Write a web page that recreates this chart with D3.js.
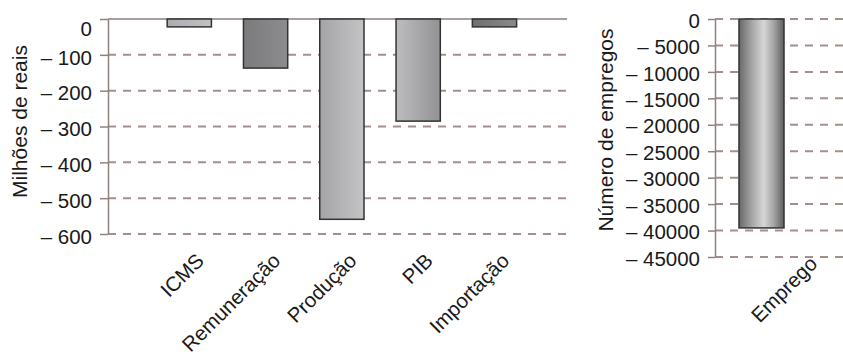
<!DOCTYPE html>
<html>
<head>
<meta charset="utf-8">
<script src="https://cdn.jsdelivr.net/npm/d3@7"></script>
<style>
  html, body { margin: 0; padding: 0; background: #fff; }
  svg { display: block; font-family: "Liberation Sans", Arial, sans-serif; }
</style>
</head>
<body>
<svg id="chart" width="843" height="357"></svg>
<script>
// Impact indicators (millions of reais)
const categories = ["ICMS", "Remuneração", "Produção", "PIB", "Importação"];
const valuesMoney = [-22, -137, -559, -285, -22];
const ticksMoney = [0, -100, -200, -300, -400, -500, -600];

// Impact on employment (number of jobs)
const categoriesJobs = ["Emprego"];
const valuesJobs = [-39500];
const ticksJobs = [0, -5000, -10000, -15000, -20000, -25000, -30000, -35000, -40000, -45000];

// bar shading (gradient stops, left to right)
const barShades = [
  [["0%", "#aaacaf"], ["100%", "#c0c2c4"]],
  [["0%", "#7b7b7d"], ["100%", "#8c8c8e"]],
  [["0%", "#a4a4a6"], ["100%", "#c4c4c6"]],
  [["0%", "#bdbdbf"], ["100%", "#929294"]],
  [["0%", "#6e6e70"], ["100%", "#8a8a8c"]]
];
const jobShade = [["0%", "#686868"], ["30%", "#a8a8a8"], ["55%", "#d6d6d6"], ["78%", "#a2a2a2"], ["100%", "#5e5e5e"]];

const svg = d3.select("#chart");
const defs = svg.append("defs");
const gridColor = "#a68f8b";
const axisColor = "#8f8280";
const textColor = "#1a1a1a";

function addGradient(id, stops) {
  const g = defs.append("linearGradient").attr("id", id)
    .attr("x1", "0%").attr("x2", "100%").attr("y1", "0%").attr("y2", "0%");
  stops.forEach(s => g.append("stop").attr("offset", s[0]).attr("stop-color", s[1]));
}
barShades.forEach((s, i) => addGradient("shade" + i, s));
addGradient("shadeJobs", jobShade);

const fmt = d => d === 0 ? "0" : "\u2013 " + Math.abs(d);

// ---------- left panel ----------
const L = { x0: 108, x1: 567, y0: 19, y1: 234 };
const yL = d3.scaleLinear().domain([-600, 0]).range([L.y1, L.y0]);
const xL = d3.scaleBand().domain(categories).range([L.x0, L.x1])
  .paddingInner(0.42).paddingOuter(0.718).align(0.54);

const left = svg.append("g");

left.append("g").selectAll("line").data(ticksMoney.filter(d => d !== 0)).join("line")
  .attr("x1", L.x0).attr("x2", L.x1)
  .attr("y1", d => yL(d)).attr("y2", d => yL(d))
  .attr("stroke", gridColor).attr("stroke-width", 2).attr("stroke-dasharray", "8,7");

left.append("line")
  .attr("x1", L.x0).attr("x2", L.x1).attr("y1", yL(0)).attr("y2", yL(0))
  .attr("stroke", "#a89f9d").attr("stroke-width", 2);

left.append("g").selectAll("rect").data(valuesMoney).join("rect")
  .attr("x", (d, i) => xL(categories[i]))
  .attr("width", xL.bandwidth())
  .attr("y", yL(0))
  .attr("height", d => yL(d) - yL(0))
  .attr("fill", (d, i) => "url(#shade" + i + ")")
  .attr("stroke", "#333").attr("stroke-width", 1.5);

const axL = left.append("g").attr("transform", `translate(${L.x0},0)`)
  .call(d3.axisLeft(yL).tickValues(ticksMoney).tickFormat(fmt).tickSize(8).tickSizeOuter(0).tickPadding(8));
axL.select(".domain").attr("stroke", axisColor).attr("stroke-width", 1.5);
axL.selectAll(".tick line").attr("stroke", axisColor).attr("stroke-width", 1.5);
axL.selectAll(".tick text").attr("fill", textColor).attr("font-size", 20.5)
  .attr("font-family", "Liberation Sans, Arial, sans-serif")
  .attr("dy", d => d === 0 ? "0.78em" : "0.45em");

left.append("g").selectAll("text").data(categories).join("text")
  .attr("transform", d => `translate(${xL(d) + xL.bandwidth() / 2 + 16},262) rotate(-45)`)
  .attr("text-anchor", "end")
  .attr("font-size", 20.5).attr("fill", textColor)
  .text(d => d);

left.append("text")
  .attr("transform", `translate(27,${(L.y0 + 200) / 2 + 12}) rotate(-90)`)
  .attr("text-anchor", "middle").attr("font-size", 21).attr("fill", textColor)
  .text("Milhões de reais");

// ---------- right panel ----------
const R = { x0: 715, x1: 843, y0: 19, y1: 257 };
const yR = d3.scaleLinear().domain([-45000, 0]).range([R.y1, R.y0]);
const xR = d3.scaleBand().domain(categoriesJobs).range([R.x0, R.x1])
  .paddingInner(0.3).paddingOuter(0.645).align(0.289);

const right = svg.append("g");

right.append("g").selectAll("line").data(ticksJobs).join("line")
  .attr("x1", R.x0).attr("x2", R.x1 + 10)
  .attr("y1", d => yR(d)).attr("y2", d => yR(d))
  .attr("stroke", gridColor).attr("stroke-width", 2).attr("stroke-dasharray", "8,7");

right.append("g").selectAll("rect").data(valuesJobs).join("rect")
  .attr("x", (d, i) => xR(categoriesJobs[i]))
  .attr("width", xR.bandwidth())
  .attr("y", yR(0))
  .attr("height", d => yR(d) - yR(0))
  .attr("fill", "url(#shadeJobs)")
  .attr("stroke", "#333").attr("stroke-width", 1.5);

const axR = right.append("g").attr("transform", `translate(${R.x0},0)`)
  .call(d3.axisLeft(yR).tickValues(ticksJobs).tickFormat(fmt).tickSize(7).tickSizeOuter(0).tickPadding(8));
axR.select(".domain").attr("stroke", axisColor).attr("stroke-width", 1.5);
axR.selectAll(".tick line").attr("stroke", axisColor).attr("stroke-width", 1.5);
axR.selectAll(".tick text").attr("fill", textColor).attr("font-size", 20.5)
  .attr("font-family", "Liberation Sans, Arial, sans-serif")
  .attr("dy", "0.4em");

right.append("g").selectAll("text").data(categoriesJobs).join("text")
  .attr("transform", d => `translate(${xR(d) + xR.bandwidth() / 2 + 57},265) rotate(-45)`)
  .attr("text-anchor", "end")
  .attr("font-size", 20.5).attr("fill", textColor)
  .text(d => d);

right.append("text")
  .attr("transform", `translate(613,130) rotate(-90)`)
  .attr("text-anchor", "middle").attr("font-size", 21).attr("fill", textColor)
  .text("Número de empregos");
</script>
</body>
</html>
